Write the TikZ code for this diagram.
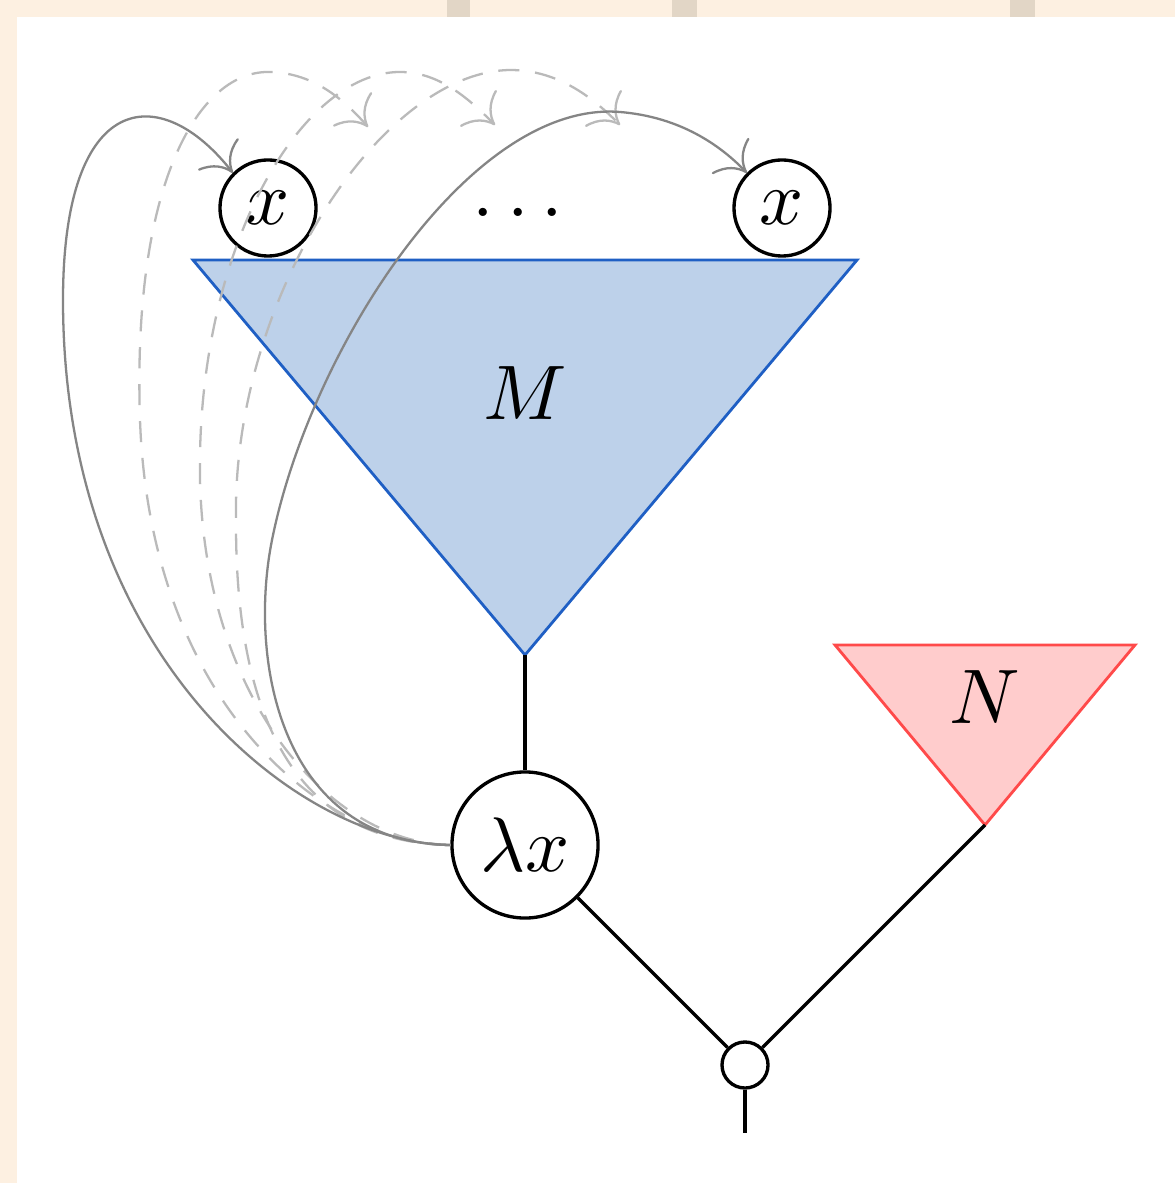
\documentclass[tikz,border=0pt]{standalone}
\usepackage{graphicx}
\usetikzlibrary{arrows.meta}
\definecolor{termblue}{HTML}{BDD1EA}
\definecolor{termblueline}{HTML}{1F5FC4}
\definecolor{termred}{HTML}{FFCCCC}
\definecolor{termredline}{HTML}{FF4A4A}
\definecolor{pagebg}{HTML}{FDF0E1}
\definecolor{pagetab}{HTML}{E2D6C6}
\newcommand{\termlbl}[1]{\scalebox{2.2}{$#1$}}

\begin{document}
\begin{tikzpicture}[
    x=0.01cm, y=-0.01cm,
    var/.style={circle, draw, line width=0.95pt, inner sep=0pt, minimum size=0.96cm},
    abs/.style={circle, draw, line width=0.95pt, inner sep=0pt, minimum size=1.46cm},
    app/.style={circle, draw, line width=0.95pt, inner sep=0pt, minimum size=0.46cm},
    wire/.style={line width=0.95pt},
    bind/.style={draw=black!48, line width=0.65pt, -{Computer Modern Rightarrow[scale=2.3]}},
    ghost/.style={bind, draw=black!27, dash pattern=on 6pt off 4.5pt}
]
    % page frame
    \fill[pagebg] (0,0) rectangle (1175,1183);
    \fill[white] (17,17) rectangle (1175,1183);
    \fill[pagetab] (447,0) rectangle (470,17);
    \fill[pagetab] (672,0) rectangle (697,17);
    \fill[pagetab] (1010,0) rectangle (1035,17);

    % body M and argument N
    \coordinate (Ml) at (193,260);
    \coordinate (Mr) at (857,260);
    \coordinate (Mb) at (525,655);
    \filldraw[fill=termblue, draw=termblueline, line width=0.8pt] (Ml) -- (Mr) -- (Mb) -- cycle;
    \node (M) at (525,393) {\termlbl{M}};

    \coordinate (Nl) at (835,645);
    \coordinate (Nr) at (1135,645);
    \coordinate (Nb) at (985,825);
    \filldraw[fill=termred, draw=termredline, line width=0.8pt] (Nl) -- (Nr) -- (Nb) -- cycle;
    \node (N) at (985,697) {\termlbl{N}};

    % variables
    \node[var] (xl) at (268,208) {\termlbl{x}};
    \node (dots) at (518,212) {\termlbl{\ldots}};
    \node[var] (xr) at (782,208) {\termlbl{x}};

    % abstraction and application
    \node[abs] (lam) at (525,845) {\termlbl{\lambda x}};
    \node[app] (ap) at (745,1065) {};
    \coordinate (root) at (745,1133);

    \draw[wire] (Mb) -- (lam);
    \draw[wire] (lam) -- (ap);
    \draw[wire] (Nb) -- (ap);
    \draw[wire] (ap) -- (root);

    % hidden occurrences
    \coordinate (d1) at (368,127);
    \coordinate (d2) at (495,125);
    \coordinate (d3) at (620,125);
    \draw[ghost] (lam.west) .. controls (320,843) and (150,700) .. (140,420)
        .. controls (132,180) and (200,70) .. (270,72)
        .. controls (310,73) and (340,95) .. (d1);
    \draw[ghost] (lam.west) .. controls (330,843) and (205,700) .. (200,480)
        .. controls (196,250) and (300,72) .. (400,72)
        .. controls (440,72) and (470,100) .. (d2);
    \draw[ghost] (lam.west) .. controls (310,843) and (235,740) .. (236,520)
        .. controls (232,300) and (380,72) .. (510,70)
        .. controls (560,70) and (595,100) .. (d3);

    % bindings
    \draw[bind] (lam.west) .. controls (300,843) and (63,660) .. (63,300)
        .. controls (63,90) and (160,80) .. (xl.135);
    \draw[bind] (lam.west) .. controls (280,843) and (248,660) .. (272,540)
        .. controls (310,350) and (470,100) .. (620,112)
        .. controls (680,117) and (720,145) .. (xr.135);
\end{tikzpicture}
\end{document}
